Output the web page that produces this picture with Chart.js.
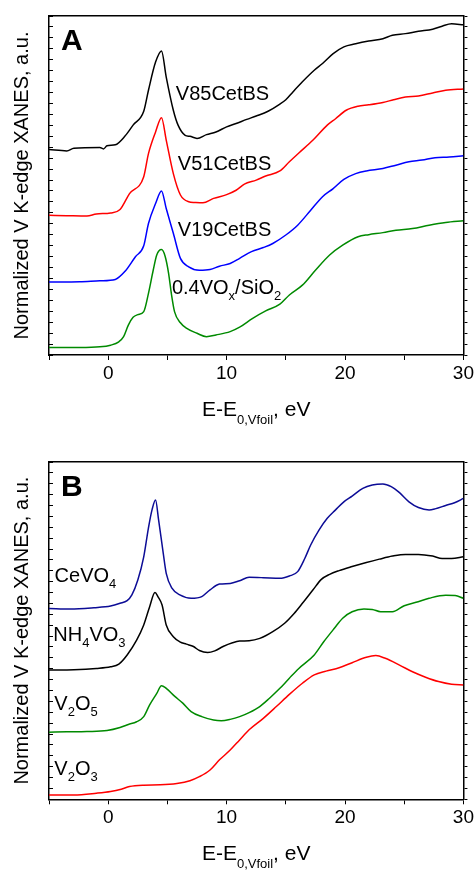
<!DOCTYPE html>
<html>
<head>
<meta charset="utf-8">
<script src="https://cdn.jsdelivr.net/npm/chart.js@4"></script>
<style>
  html, body { margin: 0; padding: 0; background: #fff; }
  canvas { display: block; }
</style>
</head>
<body>
<canvas id="chartA" width="476" height="435"></canvas>
<canvas id="chartB" width="476" height="435"></canvas>
<script>
// --- data, panel A (energy in eV, normalized absorption in a.u.) ---
const v85E = [-5,-3.5,-2.9,-0.7,-0.4,-0.1,0.6,1.4,2.1,3.0,3.4,4.0,4.5,4.9,5.5,5.9,6.5,6.9,7.5,8.3,9.1,10.0,10.8,11.7,12.5,13.5,14.5,15.0,15.6,16.4,17.4,18.1,19.0,19.9,20.9,22.0,23.2,24.0,25.1,26.2,27.4,28.2,29.0,30];
const v85Y = [60.6,60.2,61.0,61.2,60.8,61.7,62.0,64.5,67.8,71.9,78.1,86.4,89.7,82.0,72.2,67.8,64.8,64.5,63.9,65.0,65.8,67.3,68.3,69.5,70.5,71.9,74.0,75.3,77.6,80.6,84.0,86.0,88.9,90.9,91.8,92.6,93.3,94.3,94.8,95.5,96.1,97.0,97.7,97.4];
const v51E = [-5,-3.5,-1.8,-1.0,0.2,1.0,1.8,3.0,3.4,4.0,4.5,4.9,5.5,6.1,6.8,7.3,8.0,8.9,10.0,10.8,11.5,12.5,13.3,14.5,15.3,16.1,17.3,18.5,19.2,20.1,21.1,22.0,23.2,24.1,25.1,26.2,27.4,28.5,30];
const v51Y = [41.2,41.1,41.0,41.6,41.9,42.9,47.6,52.6,59.4,65.8,70.0,63.4,53.5,47.2,45.2,45.0,44.9,46.2,47.3,48.6,50.4,51.6,52.8,54.3,57.0,59.6,63.4,67.8,69.7,72.2,73.4,73.8,74.5,75.3,76.1,76.4,77.3,78.1,78.5];
const v19E = [-5,-2.4,-0.7,0.6,1.4,2.3,3.0,3.4,4.0,4.5,4.9,5.5,6.1,6.8,7.7,8.6,9.4,10.3,11.1,12.1,13.1,13.9,15.0,16.0,17.1,18.1,19.0,19.9,20.9,21.8,23.2,24.3,25.4,26.5,27.6,28.8,30];
const v19Y = [21.5,21.6,21.9,22.3,24.6,29.0,32.2,38.8,44.7,48.4,43.2,35.9,28.5,26.0,25.0,25.2,26.2,27.0,28.5,30.5,31.7,32.9,35.4,38.3,42.7,46.7,49.1,51.8,53.5,54.3,55.0,56.0,57.0,57.5,58.2,58.4,58.8];
const voxE = [-5,-2.4,-0.7,0.2,0.9,1.3,1.7,2.1,2.5,3.0,3.4,3.8,4.1,4.5,4.8,5.1,5.35,5.6,6.1,6.6,7.5,8.3,9.1,10.3,11.1,12.2,13.3,14.5,15.3,16.4,17.5,18.7,19.8,21.1,22.0,23.2,24.3,25.7,27.1,28.5,30];
const voxY = [2.2,2.2,2.4,2.9,3.9,5.4,8.8,11.1,11.9,12.8,18.2,25.0,29.5,31.1,29.2,24.1,17.7,12.8,9.5,7.9,6.4,5.4,5.9,6.9,8.2,10.8,13.0,15.0,17.7,20.6,25.0,29.5,32.4,34.9,35.5,36.1,36.8,37.3,38.3,39.1,39.6];

// --- data, panel B (reference compounds) ---
const ceE = [-5,-3.2,-1.2,0.2,1.0,1.6,2.0,2.5,3.0,3.4,3.7,4.0,4.25,4.65,4.9,5.4,6.05,7.0,7.9,8.6,9.4,10.3,11.1,11.9,13.1,14.5,15.3,16.0,16.6,17.1,17.8,18.5,19.2,19.9,20.6,21.5,22.3,23.2,23.9,24.6,25.4,26.2,27.1,27.6,28.5,29.3,30];
const ceY = [56.6,56.4,56.8,57.3,58.1,58.9,60.6,65.0,71.9,80.5,85.8,88.7,83.0,72.9,67.0,62.5,60.6,59.6,60.1,62.1,63.8,64.0,64.8,65.8,65.7,65.5,66.2,67.5,71.4,75.4,79.8,83.3,85.8,88.2,89.9,92.2,93.2,93.5,92.7,90.9,88.2,86.5,85.8,86.1,87.1,88.0,89.2];
const nhE = [-5,-2.9,-1.0,0.2,0.9,1.6,2.4,3.0,3.5,3.95,4.2,4.55,4.9,5.5,6.05,6.6,7.2,7.7,8.4,9.0,9.7,10.5,11.1,11.9,12.8,13.9,14.9,15.7,16.4,17.3,18.0,18.7,19.5,20.6,21.8,22.9,24.0,25.1,26.2,27.4,28.2,29.0,30];
const nhY = [38.3,38.4,38.8,39.3,40.1,42.8,47.2,51.7,57.1,61.3,60.1,57.6,51.7,48.2,46.7,46.0,45.3,44.1,43.5,44.0,45.3,46.4,46.9,47.0,47.7,49.7,52.2,55.1,58.1,62.1,65.2,66.7,67.8,69.0,70.2,71.2,72.1,72.6,72.6,72.1,71.4,71.4,71.9];
const v2o5E = [-5,-3.5,-1.8,-0.1,1.0,1.7,2.4,3.0,3.5,4.1,4.5,4.9,5.6,6.3,7.0,7.9,8.9,9.55,10.3,11.1,11.9,12.8,13.6,14.5,15.3,16.1,17.4,18.2,19.1,19.8,20.6,21.6,22.3,23.0,24.0,25.0,26.0,27.1,28.5,29.3,30];
const v2o5Y = [19.9,20.0,20.1,20.4,21.3,22.2,23.0,24.5,28.0,31.4,33.7,32.9,30.6,28.5,26.0,24.5,23.5,23.3,23.7,24.5,25.7,27.5,29.9,32.9,35.9,38.8,42.8,46.7,50.7,53.7,55.6,56.4,56.3,55.6,55.6,57.4,58.4,59.6,60.5,60.4,59.6];
const v2o3E = [-5,-2.9,-1.0,0.2,1.1,1.8,3.0,4.4,5.8,6.9,7.7,8.6,9.4,10.3,11.1,11.9,13.1,14.2,15.3,16.4,17.4,18.4,19.5,20.6,21.8,22.6,23.4,24.6,25.7,26.8,27.9,29.0,30];
const v2o3Y = [1.3,1.3,1.8,2.3,3.0,3.8,4.2,4.3,4.7,5.5,6.7,8.7,11.7,14.6,17.6,20.6,24.0,27.5,31.1,34.4,36.9,38.0,39.0,40.5,42.1,42.6,41.8,39.8,37.8,36.2,34.9,34.1,33.9];

// axis
const xMajorTicks = [0, 10, 20, 30];
const yTitle = 'Normalized V K-edge XANES, a.u.';

const FONT = '"Liberation Sans", Arial, Helvetica, sans-serif';
const zip = (xs, ys) => xs.map((x, i) => ({ x, y: ys[i] }));
const yTickVals = Array.from({ length: 32 }, (_, i) => i * 100 / 31);

function rich(ctx, parts, px, py, size, subSize, subDy, align) {
  const f = s => s + 'px ' + FONT;
  let w = 0;
  parts.forEach(p => { ctx.font = f(p[1] ? subSize : size); w += ctx.measureText(p[0]).width; });
  let cx = align === 'center' ? px - w / 2 : px;
  parts.forEach(p => {
    ctx.font = f(p[1] ? subSize : size);
    ctx.fillText(p[0], cx, py + (p[1] ? subDy : 0));
    cx += ctx.measureText(p[0]).width;
  });
}

const annotate = {
  id: 'annotate',
  afterDraw(chart, args, o) {
    const { ctx, chartArea: a, scales: { x, y } } = chart;
    ctx.save();
    ctx.fillStyle = '#000';
    ctx.textAlign = 'left';
    ctx.textBaseline = 'alphabetic';
    o.labels.forEach(l => rich(ctx, l.parts, x.getPixelForValue(l.x), y.getPixelForValue(l.y) + 7, 20, 13, 6, 'left'));
    rich(ctx, [['E-E'], ['0,Vfoil', 1], [', eV']], (a.left + a.right) / 2, a.bottom + 61, 21, 13, 8, 'center');
    ctx.font = 'bold 30px ' + FONT;
    ctx.fillText(o.letter, a.left + 12, a.top + 33.5);
    ctx.restore();
  }
};

function makePanel(id, padTop, xH, series, labels, letter) {
  const ds = series.map(s => ({
    data: zip(s[0], s[1]),
    borderColor: s[2],
    borderWidth: 1.5,
    pointRadius: 0,
    fill: false,
    cubicInterpolationMode: 'monotone'
  }));
  const yAxis = pos => ({
    type: 'linear', position: pos, min: 0, max: 100,
    afterBuildTicks: s => { s.ticks = yTickVals.map(v => ({ value: v })); },
    afterFit: s => { s.width = pos === 'left' ? 49 : 12; },
    ticks: { display: false },
    grid: { drawOnChartArea: false, tickLength: pos === 'left' ? -4 : 4, color: '#000' },
    border: { color: '#000', width: 1.5 },
    title: pos === 'left'
      ? { display: true, text: yTitle, color: '#000', font: { family: FONT, size: 20 }, padding: { top: 10, bottom: 0 } }
      : { display: false }
  });
  return new Chart(document.getElementById(id), {
    type: 'line',
    data: { datasets: ds },
    plugins: [annotate],
    options: {
      responsive: false,
      animation: false,
      devicePixelRatio: 1,
      layout: { padding: { top: padTop, left: 0, right: 0, bottom: 0 } },
      plugins: {
        legend: { display: false },
        tooltip: { enabled: false },
        annotate: { labels, letter }
      },
      scales: {
        x: {
          type: 'linear', position: 'bottom', min: -5, max: 30,
          afterFit: s => { s.height = xH; },
          ticks: {
            stepSize: 5, autoSkip: false, maxRotation: 0, padding: 2, color: '#000',
            font: { family: FONT, size: 19 },
            callback: v => xMajorTicks.includes(v) ? String(v) : ''
          },
          grid: { drawOnChartArea: false, tickLength: 5, color: '#000' },
          border: { color: '#000', width: 1.5 }
        },
        x2: {
          type: 'linear', position: 'top', min: -5, max: 30,
          afterFit: s => { s.height = 0; },
          ticks: { display: false },
          grid: { display: false },
          border: { display: true, color: '#000', width: 1.5 }
        },
        y: yAxis('left'),
        y2: yAxis('right')
      }
    }
  });
}

makePanel('chartA', 16, 80, [
  [v85E, v85Y, '#000000'],
  [v51E, v51Y, '#ff0000'],
  [v19E, v19Y, '#0000ff'],
  [voxE, voxY, '#008a00']
], [
  { x: 5.71, y: 77.3, parts: [['V85CetBS']] },
  { x: 5.88, y: 56.6, parts: [['V51CetBS']] },
  { x: 5.88, y: 37.1, parts: [['V19CetBS']] },
  { x: 5.38, y: 20.0, parts: [['0.4VO'], ['x', 1], ['/SiO'], ['2', 1]] }
], 'A');

makePanel('chartB', 27, 70.7, [
  [ceE, ceY, '#0c0c96'],
  [nhE, nhY, '#000000'],
  [v2o5E, v2o5Y, '#008a00'],
  [v2o3E, v2o3Y, '#ff0000']
], [
  { x: -4.53, y: 66.5, parts: [['CeVO'], ['4', 1]] },
  { x: -4.64, y: 49.0, parts: [['NH'], ['4', 1], ['VO'], ['3', 1]] },
  { x: -4.55, y: 28.6, parts: [['V'], ['2', 1], ['O'], ['5', 1]] },
  { x: -4.55, y: 9.3, parts: [['V'], ['2', 1], ['O'], ['3', 1]] }
], 'B');
</script>
</body>
</html>
